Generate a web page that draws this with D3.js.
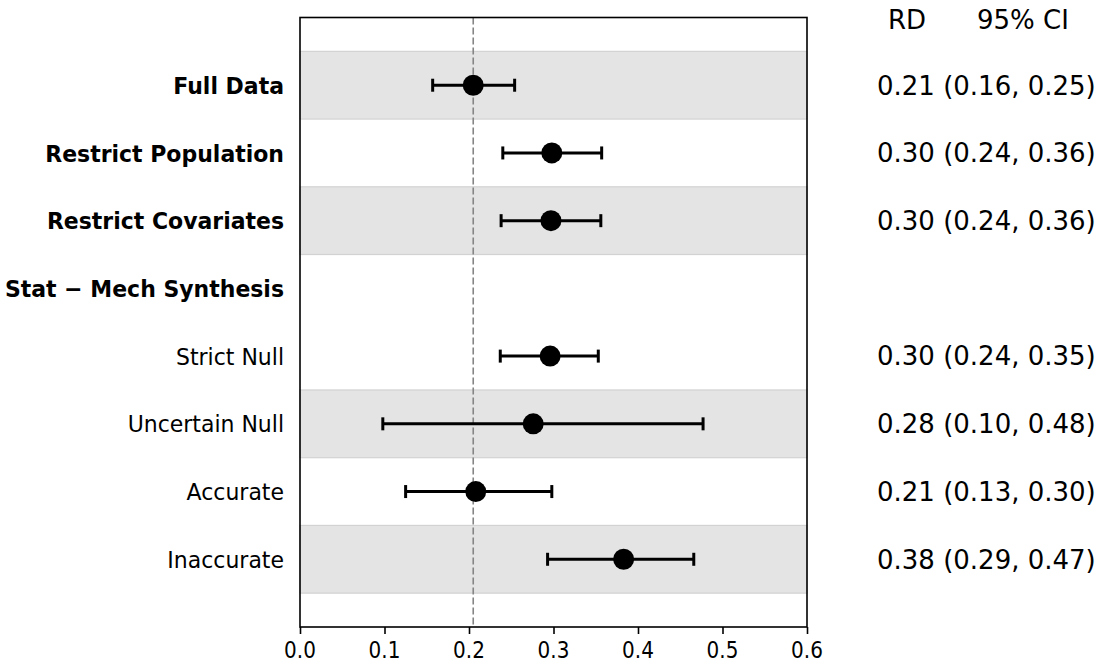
<!DOCTYPE html>
<html>
<head>
<meta charset="utf-8">
<script src="https://cdn.jsdelivr.net/npm/d3@7"></script>
<style>
  body { margin: 0; background: #fff; }
  text { font-family: "DejaVu Sans", sans-serif; fill: #000; }
</style>
</head>
<body>
<div class="forest"></div>
<script>
// forest plot data
const labels = ["Full Data", "Restrict Population", "Restrict Covariates", "Stat \u2212 Mech Synthesis",
  "Strict Null", "Uncertain Null", "Accurate", "Inaccurate"]
const isHeader = [true, true, true, true, false, false, false, false]
const rd = [0.205, 0.298, 0.297, null, 0.296, 0.276, 0.208, 0.383]
const ciLow = [0.157, 0.240, 0.238, null, 0.237, 0.098, 0.125, 0.293]
const ciHigh = [0.254, 0.357, 0.356, null, 0.353, 0.477, 0.298, 0.466]
const ciText = ["0.21 (0.16, 0.25)", "0.30 (0.24, 0.36)", "0.30 (0.24, 0.36)", "",
  "0.30 (0.24, 0.35)", "0.28 (0.10, 0.48)", "0.21 (0.13, 0.30)", "0.38 (0.29, 0.47)"]
const shaded = [0, 2, 5, 7]
const refLine = 0.205
const xTicks = [0, 0.1, 0.2, 0.3, 0.4, 0.5, 0.6]

const width = 1107
const height = 664
const margin = { top: 17.5, bottom: 37, left: 300, right: 300 }

const svg = d3
  .select(".forest")
  .append("svg")
  .attr("width", width)
  .attr("height", height)

const x = d3
  .scaleLinear()
  .domain([0, 0.6])
  .range([margin.left, width - margin.right])

const y = d3
  .scaleLinear()
  .domain([-1, 8])
  .range([margin.top, height - margin.bottom])

// grey bands behind every other row
svg
  .append("g")
  .selectAll("rect")
  .data(shaded)
  .join("rect")
  .attr("x", x(0))
  .attr("width", x(0.6) - x(0))
  .attr("y", (d) => y(d - 0.5))
  .attr("height", (d) => y(d + 0.5) - y(d - 0.5))
  .attr("fill", "#e4e4e4")
  .attr("stroke", "#d2d2d2")
  .attr("stroke-width", 1.2)

// reference line at the full data estimate
svg
  .append("line")
  .attr("x1", x(refLine))
  .attr("x2", x(refLine))
  .attr("y1", y(-1))
  .attr("y2", y(8))
  .attr("stroke", "#858585")
  .attr("stroke-width", 1.6)
  .attr("stroke-dasharray", "7,3")

const rows = d3.range(labels.length).filter((i) => rd[i] != null)

const ci = svg.append("g").attr("stroke", "#000").attr("stroke-width", 3)
ci.selectAll(".bar")
  .data(rows)
  .join("line")
  .attr("x1", (i) => x(ciLow[i]))
  .attr("x2", (i) => x(ciHigh[i]))
  .attr("y1", (i) => y(i))
  .attr("y2", (i) => y(i))
ci.selectAll(".capL")
  .data(rows)
  .join("line")
  .attr("x1", (i) => x(ciLow[i]))
  .attr("x2", (i) => x(ciLow[i]))
  .attr("y1", (i) => y(i) - 6.5)
  .attr("y2", (i) => y(i) + 6.5)
ci.selectAll(".capR")
  .data(rows)
  .join("line")
  .attr("x1", (i) => x(ciHigh[i]))
  .attr("x2", (i) => x(ciHigh[i]))
  .attr("y1", (i) => y(i) - 6.5)
  .attr("y2", (i) => y(i) + 6.5)

svg
  .append("g")
  .selectAll("circle")
  .data(rows)
  .join("circle")
  .attr("cx", (i) => x(rd[i]))
  .attr("cy", (i) => y(i))
  .attr("r", 10.5)
  .attr("fill", "#000")

// frame
svg
  .append("rect")
  .attr("x", x(0))
  .attr("y", y(-1))
  .attr("width", x(0.6) - x(0))
  .attr("height", y(8) - y(-1))
  .attr("fill", "none")
  .attr("stroke", "#000")
  .attr("stroke-width", 1.6)

// x axis: ticks from d3, labels drawn a bit taller like the original
const xAxis = svg
  .append("g")
  .attr("transform", `translate(0, ${y(8)})`)
  .call(d3.axisBottom(x).tickValues(xTicks).tickFormat("").tickSize(7))
xAxis.select(".domain").remove()
xAxis.selectAll("line").attr("stroke-width", 1.6)

svg
  .append("g")
  .selectAll("text")
  .data(xTicks)
  .join("text")
  .attr("transform", (d) => `translate(${x(d)}, ${y(8) + 14}) scale(1, 1.17)`)
  .attr("dy", "0.73em")
  .attr("text-anchor", "middle")
  .style("font-size", "20px")
  .text(d3.format(".1f"))

// row labels on the left
svg
  .append("g")
  .selectAll("text")
  .data(labels)
  .join("text")
  .attr("transform", (d, i) => `translate(284, ${y(i)}) scale(1, 1.08)`)
  .attr("dy", "0.36em")
  .attr("text-anchor", "end")
  .style("font-size", "22px")
  .attr("font-weight", (d, i) => (isHeader[i] ? "bold" : "normal"))
  .text((d) => d)

// estimate column on the right
svg
  .append("g")
  .selectAll("text")
  .data(ciText)
  .join("text")
  .attr("x", 877)
  .attr("y", (d, i) => y(i))
  .attr("dy", "0.36em")
  .style("font-size", "26px")
  .text((d) => d)

svg.append("text").attr("x", 888).attr("y", 20).attr("dy", "0.36em")
  .style("font-size", "26px").text("RD")
svg.append("text").attr("x", 977).attr("y", 20).attr("dy", "0.36em")
  .style("font-size", "26px").text("95% CI")
</script>
</body>
</html>
